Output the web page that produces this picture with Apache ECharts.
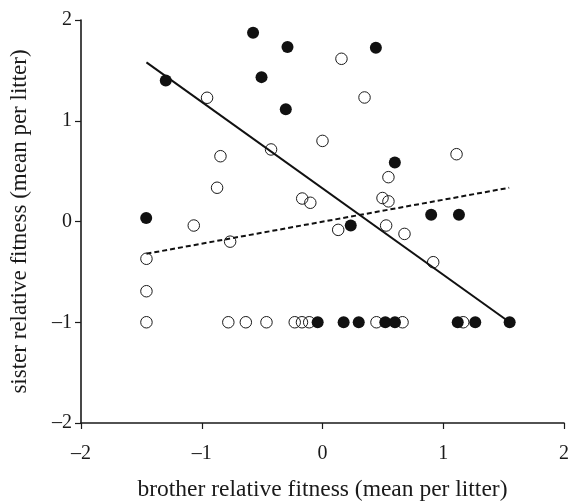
<!DOCTYPE html>
<html>
<head>
<meta charset="utf-8">
<script src="https://cdn.jsdelivr.net/npm/echarts@6/dist/echarts.min.js"></script>
<style>html,body{margin:0;padding:0;background:#fff;}#c{width:571px;height:502px;}</style>
</head>
<body>
<div id="c"></div>
<script>
var xTicks = [-2, -1, 0, 1, 2];
var yTicks = [-2, -1, 0, 1, 2];
var filledX = [-0.575, -0.29, -0.505, -1.298, -0.304, -1.46, 0.442, 0.599, 0.90, 1.13, 0.234,
  -0.04, 0.175, 0.30, 0.52, 0.60, 1.12, 1.265, 1.55];
var filledY = [1.874, 1.731, 1.433, 1.40, 1.115, 0.035, 1.725, 0.586, 0.066, 0.066, -0.04,
  -1, -1, -1, -1, -1, -1, -1, -1];
var openX = [-0.956, -0.426, -0.845, -0.873, -0.168, -0.101, 0.0, 0.157, 0.348, 1.11, 0.546, 0.497, 0.546,
  -1.066, -0.765, -1.458, -1.458, 0.13, 0.527, 0.679, 0.917,
  -1.458, -0.78, -0.635, -0.464, -0.23, -0.17, -0.11, 0.447, 0.663, 1.165];
var openY = [1.228, 0.715, 0.648, 0.335, 0.228, 0.186, 0.80, 1.615, 1.231, 0.668, 0.44, 0.233, 0.20,
  -0.04, -0.20, -0.37, -0.692, -0.083, -0.04, -0.123, -0.404,
  -1, -1, -1, -1, -1, -1, -1, -1, -1, -1];
var solidLineX = [-1.458, 1.55];
var solidLineY = [1.58, -1.0];
var dashedLineX = [-1.458, 1.546];
var dashedLineY = [-0.32, 0.335];

function pairs(xs, ys) { return xs.map(function (x, i) { return [x, ys[i]]; }); }
function fmt(v) { return v < 0 ? '\u2013' + Math.abs(v) : String(v); }

var font = 'Liberation Serif';
var chart = echarts.init(document.getElementById('c'), null, { renderer: 'canvas' });
chart.setOption({
  animation: false,
  backgroundColor: '#fff',
  grid: { left: 81, right: 7, top: 20, bottom: 79, containLabel: false, outerBoundsMode: 'none' },
  xAxis: {
    type: 'value', min: xTicks[0], max: xTicks[xTicks.length - 1], interval: 1,
    name: 'brother relative fitness (mean per litter)', nameLocation: 'middle', nameGap: 55,
    nameTextStyle: { fontFamily: font, fontSize: 23.5, color: '#1a1a1a' },
    axisLine: { show: true, onZero: false, lineStyle: { color: '#1a1a1a', width: 1.6 } },
    axisTick: { show: true, length: 6, lineStyle: { color: '#1a1a1a', width: 1.2 } },
    axisLabel: { fontFamily: font, fontSize: 20, color: '#1a1a1a', margin: 21, formatter: fmt },
    splitLine: { show: false }
  },
  yAxis: {
    type: 'value', min: yTicks[0], max: yTicks[yTicks.length - 1], interval: 1,
    name: 'sister relative fitness (mean per litter)', nameLocation: 'middle', nameGap: 49.5,
    nameTextStyle: { fontFamily: font, fontSize: 23, color: '#1a1a1a' },
    axisLine: { show: true, onZero: false, lineStyle: { color: '#1a1a1a', width: 1.6 } },
    axisTick: { show: true, length: 6, lineStyle: { color: '#1a1a1a', width: 1.2 } },
    axisLabel: { fontFamily: font, fontSize: 20, color: '#1a1a1a', margin: 9, formatter: fmt },
    splitLine: { show: false }
  },
  series: [
    { type: 'scatter', data: pairs(openX, openY), symbol: 'circle', symbolSize: 11.5, z: 2,
      itemStyle: { color: 'rgba(255,255,255,0)', borderColor: '#1a1a1a', borderWidth: 1, opacity: 1 } },
    { type: 'scatter', data: pairs(filledX, filledY), symbol: 'circle', symbolSize: 12, z: 3,
      itemStyle: { color: '#111', borderWidth: 0, opacity: 1 } },
    { type: 'line', data: pairs(solidLineX, solidLineY), symbol: 'none', z: 4,
      lineStyle: { color: '#111', width: 2, type: 'solid' } },
    { type: 'line', data: pairs(dashedLineX, dashedLineY), symbol: 'none', z: 4,
      lineStyle: { color: '#111', width: 2, type: [5, 3] } }
  ]
});
</script>
</body>
</html>
